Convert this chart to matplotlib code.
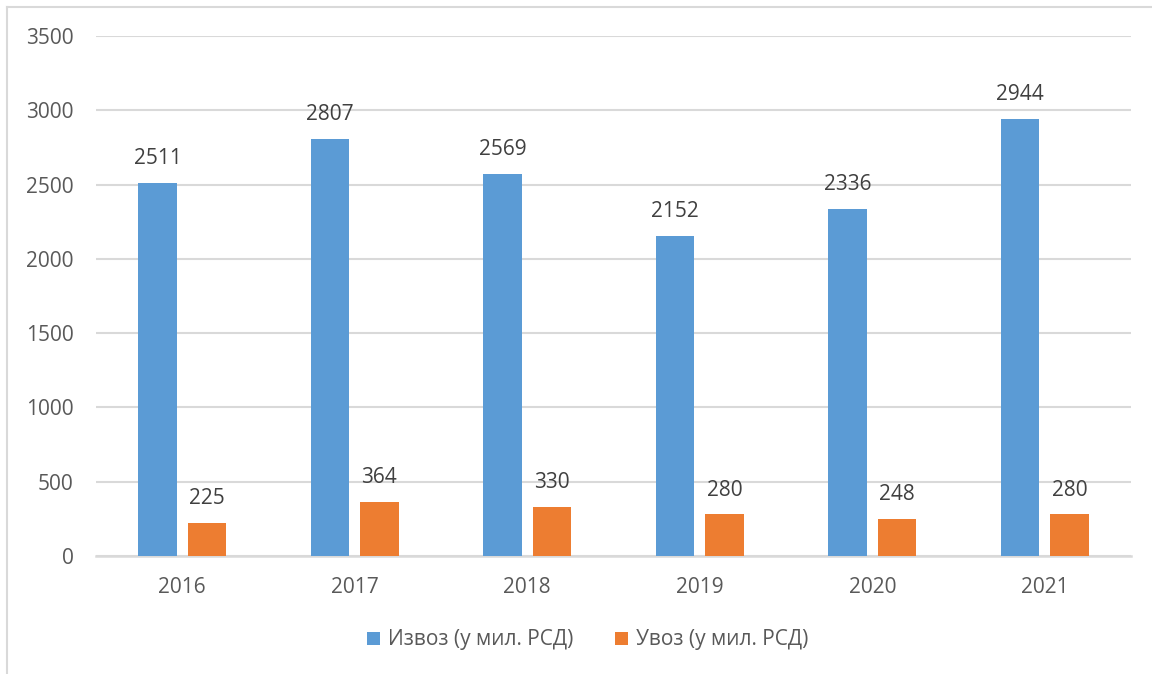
import matplotlib
matplotlib.use("Agg")
import matplotlib.pyplot as plt
from matplotlib.lines import Line2D
import numpy as np

years = ["2016", "2017", "2018", "2019", "2020", "2021"]
export_vals = [2511, 2807, 2569, 2152, 2336, 2944]
import_vals = [225, 364, 330, 280, 248, 280]
series_names = ["Извоз (у мил. РСД)", "Увоз (у мил. РСД)"]
yticks = [0, 500, 1000, 1500, 2000, 2500, 3000, 3500]

plt.rcParams['font.family'] = ['Open Sans', 'DejaVu Sans']
txt = "#595959"
grid = "#D9D9D9"
fs = 15

fig = plt.figure(figsize=(11.52, 6.74), dpi=100)
ax = fig.add_axes([96/1152, 1-556/674, 1035/1152, 520/674])

x = np.arange(len(years))
w = 0.223
off = 0.143
b1 = ax.bar(x - off, export_vals, w, color="#5B9BD5", label=series_names[0], zorder=3)
b2 = ax.bar(x + off, import_vals, w, color="#ED7D31", label=series_names[1], zorder=3)

for bars, vals in ((b1, export_vals), (b2, import_vals)):
    for r, v in zip(bars, vals):
        ax.annotate(str(v), (r.get_x() + r.get_width()/2, v), xytext=(0, 10),
                    textcoords="offset points", ha="center", va="bottom",
                    fontsize=fs, color="#404040")

ax.set_xlim(-0.5, len(years) - 0.5)
ax.set_ylim(0, 3500)
ax.set_yticks(yticks)
ax.set_xticks(x)
ax.set_xticklabels(years)
ax.tick_params(axis="both", length=0, labelsize=fs, labelcolor=txt)
ax.tick_params(axis="y", pad=16)
ax.tick_params(axis="x", pad=15)
ax.grid(axis="y", color=grid, linewidth=1.5, zorder=0)
for s in ["top", "right", "left"]:
    ax.spines[s].set_visible(False)
ax.spines["bottom"].set_color(grid)
ax.spines["bottom"].set_linewidth(1.8)

leg = fig.legend(handles=[b1, b2], labels=series_names, loc="center",
                 bbox_to_anchor=(588/1152, 1-640/674), ncol=2, frameon=False,
                 fontsize=fs, handlelength=0.6, handleheight=0.6,
                 handletextpad=0.4, columnspacing=2.0)
for t in leg.get_texts():
    t.set_color(txt)

# outer border (top and left visible)
fig.add_artist(Line2D([7/1152, 7/1152], [0, 1-7/674], transform=fig.transFigure,
                      color=grid, linewidth=1.5))
fig.add_artist(Line2D([7/1152, 1], [1-7/674, 1-7/674], transform=fig.transFigure,
                      color=grid, linewidth=1.5))

fig.savefig("out.png", dpi=100)
